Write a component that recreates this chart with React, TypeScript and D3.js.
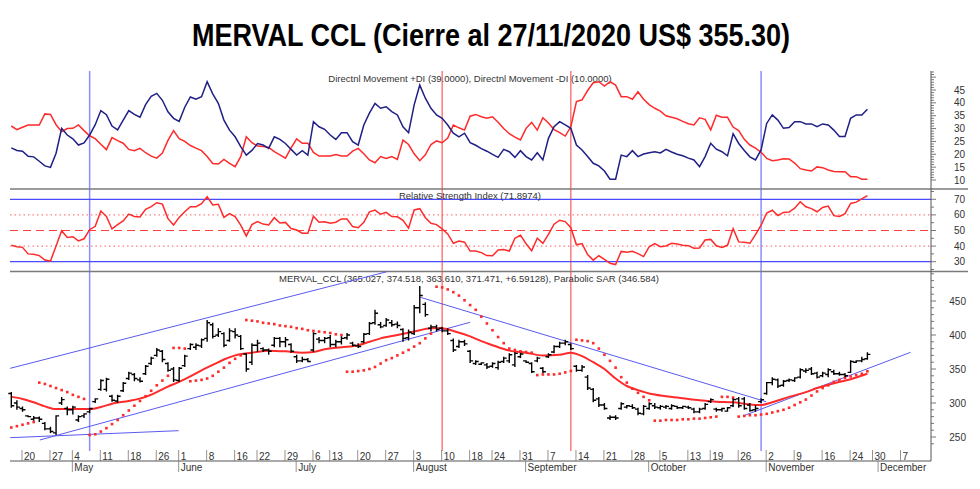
import React from "react";
import * as d3 from "d3";

// ---------- DATA ----------
const opens = [
  314,300,292,281,276,278,270,262,256,300,
  292,290,275,281,287,302,320,320,310,303,
  318,336,342,334,343,358,370,376,358,350,
  333,355,380,382,384,395,415,400,402,392,
  405,398,372,360,385,380,378,385,395,390,
  386,368,362,364,378,394,392,396,386,390,
  396,388,384,390,402,418,415,414,418,416,
  408,396,402,440,445,410,412,410,406,392,
  383,390,376,358,357,356,354,352,361,362,
  356,368,362,358,362,351,368,375,383,388,
  386,354,348,338,320,306,297,278,279,292,
  294,295,291,284,292,296,293,294,292,295,
  293,294,291,287,292,302,291,290,288,296,
  306,306,297,290,302,314,330,334,326,333,
  333,338,347,350,344,340,342,346,343,342,
  345,360,362,365.0];
const highs = [
  316,304,295,282,281,280,272,265,282,309,
  295,296,282,285,293,307,335,337,312,312,
  331,346,344,338,356,368,381,378,360,353,
  353,371,388,388,395,422,418,410,404,410,
  410,400,373,388,393,382,380,397,397,397,
  388,371,368,366,404,397,397,400,393,398,
  403,390,388,403,419,437,419,425,422,420,
  410,408,444,472,448,415,415,412,410,395,
  393,393,378,363,360,359,360,362,368,373,
  375,374,363,360,368,353,373,385,390,393,
  388,356,356,341,322,309,300,282,282,301,
  297,298,293,297,301,300,297,297,298,296,
  296,296,293,293,300,307,293,293,294,307,
  309,309,300,297,307,331,338,336,334,336,
  338,351,351,353,346,346,351,349,346,344,
  363,363,368,374.5];
const lows = [
  293,290,287,279,274,272,260,256,253,297,
  282,283,272,278,285,300,318,317,302,300,
  316,334,332,330,341,356,368,360,346,331,
  331,353,378,378,381,390,395,397,382,390,
  395,378,346,356,375,375,371,382,382,382,
  374,359,360,360,375,388,388,382,382,386,
  393,383,381,388,400,415,410,412,412,410,
  390,392,400,432,427,405,405,404,400,375,
  381,384,359,356,356,350,352,349,359,359,
  353,366,359,344,360,344,366,373,381,385,
  378,346,346,319,301,294,290,275,275,290,
  292,291,282,282,290,291,290,291,290,291,
  291,291,285,285,290,300,287,287,287,294,
  293,290,287,287,300,312,326,322,324,331,
  331,336,344,341,336,338,338,341,340,338,
  344,359,360,363.6];
const closes = [
  296,294,290,280,278,276,262,258,281,305,
  290,294,280,284,292,306,333,335,304,310,
  329,344,336,332,354,366,378,364,348,334,
  351,369,386,385,393,418,398,405,385,406,
  400,380,350,385,388,378,376,395,390,393,
  376,362,364,361,402,392,395,386,390,395,
  400,385,383,401,417,432,412,422,415,414,
  395,404,440,458,430,412,408,406,402,378,
  390,387,362,361,359,353,358,360,366,371,
  373,372,360,346,366,346,371,383,388,390,
  380,348,353,322,304,297,292,279,278,299,
  296,293,285,295,299,294,295,295,296,293,
  295,293,287,291,298,305,290,292,293,305,
  296,292,289,292,305,330,335,325,332,334,
  337,349,348,343,338,344,349,343,342,340,
  361,362,364,371.5];

const sar = [
  264,266,268,270,272,330,328,325,322,319,
  316,312,309,306,253,254,258,263,269,275,
  282,289,296,303,310,318,326,333,340,381,
  381,380,332,333,334,336,340,346,352,359,
  365,370,422,421,420,418,417,416,414,413,
  412,410,409,407,406,405,404,403,401,400,
  346,346,347,348,350,353,358,363,366,370,
  374,378,383,388,395,402,471,470,467,463,
  458,451,444,437,427,417,407,397,388,380,
  378,376,375,374,341,342,342,342,343,345,
  347,393,392,391,388,380,371,362,352,338,
  330,321,315,309,304,274,274,275,275,275,
  276,276,277,277,278,279,280,309,309,308,
  280,281,282,282,283,284,286,288,290,293,
  297,301,305,311,317,322,326,331,334,337,
  339,341,343,346.6];

// moving average read at [day index, value]
const maPoints: [number, number][] = [
  [0,309],[2,306],[4,301],[6,295],[8,291],[11,291],[14,291],[16,294],[18,299],[21,303],
  [24,309],[26,316],[28,324],[30,331],[32,339],[34,348],[36,356],[38,364],[40,370],[43,374],
  [46,377],[49,376],[52,374],[54,375],[56,379],[59,382],[62,385],[64,390],[66,395],[69,400],
  [72,405],[75,410],[77,410],[79,406],[82,398],[84,391],[86,385],[89,377],[92,374],[95,370],
  [98,371],[100,374],[102,369],[104,360],[106,350],[108,336],[110,325],[112,319],[114,314],[117,310],
  [120,307],[123,304],[126,302],[129,301],[131,299],[133,297],[134,297],[136,301],[139,309],[142,316],
  [144,322],[147,329],[150,335],[153,343]];

const plusDI = [
  22.5,21.5,21.2,19.2,19,17.3,15.5,14.9,20.4,30.1,
  27.5,26,23.6,24.4,27.5,31.5,37,35.4,31,29.5,
  33.3,37,35.5,34.4,39.3,42.5,43.7,41,36.5,34,
  32.8,38.3,42.3,41.4,42.4,48.2,43.5,39.8,33.3,29.4,
  26.8,23,19.7,21.5,24.2,23.6,22.3,26.8,25.8,24.2,
  21.9,19.7,21.4,19.7,32.7,30.7,29.7,27.5,25.8,28.4,
  28.4,24.9,23.6,31.4,36,39.8,37.9,38.5,36.6,35.3,
  30.7,28.4,39.2,46.9,41.8,37.9,35.3,34,31.4,28.2,
  26.8,28.2,24.5,23.5,22.2,21.2,20,18.8,21.9,21,
  18.8,21.4,19.1,17.8,20.6,17.8,26.2,30.7,32.7,31.4,
  30.1,23.6,21.7,19.1,16.5,15.5,13.5,10.3,10.3,19.7,
  19.1,21.4,19.1,20.1,20.6,21,20.5,21.9,20.9,20,
  19.4,18.5,17.8,15.2,19.1,24.3,22,21,19.4,28,
  24.2,21.5,19,17.8,21.7,32,35.3,33.3,30.1,30.4,
  32.7,32.7,31.8,31.8,30.7,31.8,31.4,29.4,26.9,26.9,
  34,35.3,35.3,37.5];
const minusDI = [
  31,29.6,30.5,31.4,31.4,31.4,35.7,35.5,31.5,28.8,
  30,30.1,31.4,29.2,27.2,26.1,23.9,21.8,26.5,25.3,
  24.3,21.9,21.4,22.3,20.6,19.3,18.5,20.5,25.4,29.2,
  26.1,25,23.4,22.4,21.4,19.1,16.4,16.2,18,16.5,
  15.2,19.1,26.8,24.5,23.2,23,22.7,21,19.8,18.5,
  22.5,26,24.3,24.3,20.7,19.3,19.3,19.3,19.9,19.3,
  19.3,21.2,22.3,20.2,17.8,16.7,19.1,18.4,19.1,18,
  25.5,23.8,20.2,17.5,19.8,23.8,25.2,24.5,26.3,31.4,
  30.3,29.4,34.8,35.5,34.6,34,34.6,32.5,30,28,
  26.7,25.6,30.1,32.4,29.4,34.2,32.2,29.6,28.4,27.1,
  30.7,40.5,41.2,44.8,47.8,48.2,46.5,48.2,46.9,42.4,
  42.4,41.4,44.3,41.4,39.3,37.9,36.8,35,34.4,33.8,
  32.8,31.9,31.4,34.2,33.6,29.5,35.2,34.4,34.4,30.6,
  29.2,25.8,23.6,22.4,20.8,18.4,17.5,17.8,18.3,18.2,
  16.6,14.4,13.9,13.5,15.1,14.8,13.9,13.3,13.2,13.2,
  11.3,11.3,10.3,10.3];
const rsi = [
  40.5,39.6,39.2,35,34.7,33.9,31.1,30.4,40.1,49.9,
  45.5,46,43.3,44.7,50.5,52.7,62.5,59,51,53.8,
  56.1,60.5,59,58.7,63.6,65.3,67.8,66.9,57.6,53.5,
  58.4,62,65.3,65.3,67.2,71.6,66.4,66.8,58.4,60.8,
  58.9,53.5,46.5,53.8,55.7,54.1,53.5,58.2,54.8,55.2,
  51.3,50.3,48.3,48.2,59.2,55.3,55.6,54.6,55.3,57.4,
  57.4,52.5,51.8,55.3,62,63.1,60.4,61.6,58.9,58.8,
  56.5,51.5,63.2,64,58.2,54.6,53.8,51,47.8,41.8,
  43.3,42.5,36.8,36.8,35.8,33.9,33.8,37.5,37.8,36.8,
  45,47,41.5,37,45,41.8,47.5,54,56.6,55.7,
  51.8,40.8,41.6,34.6,31,33.8,31.5,29,28.2,36.6,
  36,36.7,35.2,33.3,39.6,41.6,39.6,40.1,41.8,41.3,
  40.6,40.3,38.6,38.8,43.9,44.3,40.2,39.2,40.5,51.2,
  42.7,42.4,41.8,47.3,53.4,61.2,63,59.6,61.6,61.8,
  64.3,68.4,65.2,64,62,64.8,65.7,59.5,59,60.8,
  67.3,68.2,70.3,72.4];

// trendlines: [idx1, value1, idx2, value2]
const trendLines: [number, number, number, number][] = [
  [-0.2, 351, 67.1, 493],
  [5.1, 245.6, 82.0, 418.7],
  [-0.2, 249, 29.9, 259.3],
  [73.1, 455.4, 134.9, 301.9],
  [130.9, 281.3, 160.7, 374.5],
];
const blueMarkers = [14, 134];
const redMarkers = [77, 100];

const dayTicks: [number, string][] = [
  [2,"20"],[7,"27"],[11,"4"],[16,"11"],[21,"18"],[26,"26"],[30,"1"],[35,"8"],[40,"16"],[44,"22"],
  [49,"29"],[54,"6"],[57,"13"],[62,"20"],[67,"27"],[72,"3"],[77,"10"],[82,"18"],[86,"24"],[91,"31"],
  [96,"7"],[101,"14"],[106,"21"],[111,"28"],[116,"5"],[121,"13"],[125,"19"],[130,"26"],[135,"2"],[140,"9"],
  [145,"16"],[150,"24"],[154,"30"],[159,"7"]];
const monthTicks: [number, string][] = [
  [11,"May"],[30,"June"],[51,"July"],[72,"August"],[92,"September"],[114,"October"],[135,"November"],[155,"December"]];
const dmiTicks = [10,15,20,25,30,35,40,45];
const rsiTicks = [30,40,50,60,70];
const priceTicks = [250,300,350,400,450];

const TITLE = "MERVAL CCL (Cierre al 27/11/2020 US$ 355.30)";
const DMI_LABEL = "Directnl Movement +DI (39.0000), Directnl Movement -DI (10.0000)";
const RSI_LABEL = "Relative Strength Index (71.8974)";
const PRICE_LABEL = "MERVAL_CCL (365.027, 374.518, 363.610, 371.471, +6.59128), Parabolic SAR (346.584)";

// ---------- LAYOUT ----------
const W = 980, H = 489;
const LEFT = 10, AXIS_X = 931, LINE_END = 968;
const FONT = "'Liberation Sans', Arial, sans-serif";
const BLUE_DI = "#1f1f85";
const RED = "#ff2a2a";
const TREND = "#5a5af0";

export default function App() {
  const x = d3.scaleLinear().domain([0, 153]).range([11.3, 867.4]);
  const yD = d3.scaleLinear().domain([10, 45]).range([180, 90]);
  const yR = d3.scaleLinear().domain([30, 70]).range([261.7, 199.3]);
  const yP = d3.scaleLinear().domain([250, 450]).range([437, 301]);

  const lineD = d3.line<number>().x((_, i) => x(i)).y((d) => yD(d));
  const lineR = d3.line<number>().x((_, i) => x(i)).y((d) => yR(d));
  const lineMA = d3.line<[number, number]>().x((d) => x(d[0])).y((d) => yP(d[1])).curve(d3.curveMonotoneX);

  const bars = opens.map((o, i) => {
    const cx = x(i);
    return `M${cx},${yP(highs[i])}V${yP(lows[i])}M${cx - 3},${yP(o)}H${cx}M${cx},${yP(closes[i])}H${cx + 3}`;
  }).join("");

  // right axis minor ticks
  const dmiMinor = d3.range(10, 53, 1);
  const rsiMinor = d3.range(25, 76, 5);
  const priceMinor = d3.range(240, 500, 10);

  const axisColor = "#555";
  const textColor = "#333";

  return (
    <svg width={W} height={H} style={{ position: "absolute", left: 0, top: 0, background: "#fff" }} fontFamily={FONT}>
      <rect x={0} y={0} width={W} height={H} fill="#fff" />
      <text x={491} y={46} textAnchor="middle" fontSize={32} fontWeight="bold" fill="#000"
        textLength={598} lengthAdjust="spacingAndGlyphs" fontFamily="'Liberation Sans', Arial, sans-serif">{TITLE}</text>

      {/* vertical markers */}
      {blueMarkers.map((m) => (
        <line key={"bm" + m} x1={x(m)} x2={x(m)} y1={71} y2={451} stroke="#8c8cff" strokeWidth={1.5} />
      ))}
      {redMarkers.map((m) => (
        <line key={"rm" + m} x1={x(m)} x2={x(m)} y1={71} y2={451} stroke="#ff5a5a" strokeWidth={1.2} />
      ))}

      {/* panel separators */}
      <line x1={LEFT} x2={LINE_END} y1={189} y2={189} stroke="#7a7a7a" strokeWidth={1.5} />
      <line x1={LEFT} x2={LINE_END} y1={271.5} y2={271.5} stroke="#7a7a7a" strokeWidth={1.5} />

      {/* DMI panel */}
      <text x={470} y={82} textAnchor="middle" fontSize={9.5} fill={textColor}>{DMI_LABEL}</text>
      <path d={lineD(minusDI) || ""} fill="none" stroke={RED} strokeWidth={1.5} />
      <path d={lineD(plusDI) || ""} fill="none" stroke={BLUE_DI} strokeWidth={1.5} />

      {/* RSI panel */}
      <line x1={LEFT} x2={AXIS_X} y1={yR(70)} y2={yR(70)} stroke="#4a4aff" strokeWidth={1.2} />
      <line x1={LEFT} x2={AXIS_X} y1={yR(30)} y2={yR(30)} stroke="#4a4aff" strokeWidth={1.2} />
      <line x1={LEFT} x2={AXIS_X} y1={yR(60)} y2={yR(60)} stroke="#ff6060" strokeWidth={1} strokeDasharray="1.5,3" />
      <line x1={LEFT} x2={AXIS_X} y1={yR(40)} y2={yR(40)} stroke="#ff6060" strokeWidth={1} strokeDasharray="1.5,3" />
      <line x1={LEFT} x2={AXIS_X} y1={yR(50)} y2={yR(50)} stroke="#ff4040" strokeWidth={1} strokeDasharray="8,5" />
      <text x={470} y={199} textAnchor="middle" fontSize={9.5} fill={textColor}>{RSI_LABEL}</text>
      <path d={lineR(rsi) || ""} fill="none" stroke={RED} strokeWidth={1.5} />

      {/* Price panel */}
      <text x={469} y={282} textAnchor="middle" fontSize={9.5} fill={textColor}>{PRICE_LABEL}</text>
      {trendLines.map((t, i) => (
        <line key={"tl" + i} x1={x(t[0])} y1={yP(t[1])} x2={x(t[2])} y2={yP(t[3])} stroke={TREND} strokeWidth={1} />
      ))}
      <path d={lineMA(maPoints) || ""} fill="none" stroke={RED} strokeWidth={2} />
      {sar.map((s, i) => (
        <rect key={"s" + i} x={x(i) - 1.3} y={yP(s) - 1.3} width={2.6} height={2.6} fill={RED} />
      ))}
      <path d={bars} fill="none" stroke="#000" strokeWidth={1.4} />

      {/* Right axis */}
      <line x1={AXIS_X} x2={AXIS_X} y1={71} y2={461} stroke={axisColor} strokeWidth={1} />
      {dmiMinor.map((v) => (
        <line key={"dm" + v} x1={AXIS_X} x2={AXIS_X + (v % 5 === 0 ? 5 : 3)} y1={yD(v)} y2={yD(v)} stroke={axisColor} strokeWidth={0.8} />
      ))}
      {dmiTicks.map((v) => (
        <text key={"dt" + v} x={965} y={yD(v) + 3.5} textAnchor="end" fontSize={10} fill={textColor}>{v}</text>
      ))}
      {rsiMinor.map((v) => (
        <line key={"rmn" + v} x1={AXIS_X} x2={AXIS_X + (v % 10 === 0 ? 5 : 3)} y1={yR(v)} y2={yR(v)} stroke={axisColor} strokeWidth={0.8} />
      ))}
      {rsiTicks.map((v) => (
        <text key={"rt" + v} x={965} y={yR(v) + 3.5} textAnchor="end" fontSize={10} fill={textColor}>{v}</text>
      ))}
      {priceMinor.filter((v) => yP(v) > 272 && yP(v) < 451).map((v) => (
        <line key={"pm" + v} x1={AXIS_X} x2={AXIS_X + (v % 50 === 0 ? 5 : 3)} y1={yP(v)} y2={yP(v)} stroke={axisColor} strokeWidth={0.8} />
      ))}
      {priceTicks.map((v) => (
        <text key={"pt" + v} x={966} y={yP(v) + 3.5} textAnchor="end" fontSize={10} fill={textColor}>{v}</text>
      ))}

      {/* Bottom axis */}
      <line x1={LEFT} x2={AXIS_X} y1={461} y2={461} stroke={axisColor} strokeWidth={1} />
      {dayTicks.map(([i, l]) => (
        <g key={"d" + i}>
          <line x1={x(i) - 0.5} x2={x(i) - 0.5} y1={450} y2={461} stroke="#777" strokeWidth={0.8} />
          <text x={x(i) + 1.5} y={460} fontSize={10} fill={textColor}>{l}</text>
        </g>
      ))}
      {monthTicks.map(([i, l]) => (
        <g key={"m" + i}>
          <line x1={x(i) - 0.5} x2={x(i) - 0.5} y1={461} y2={472} stroke="#777" strokeWidth={0.8} />
          <text x={x(i) + 1.5} y={471} fontSize={10} fill={textColor}>{l}</text>
        </g>
      ))}
    </svg>
  );
}
